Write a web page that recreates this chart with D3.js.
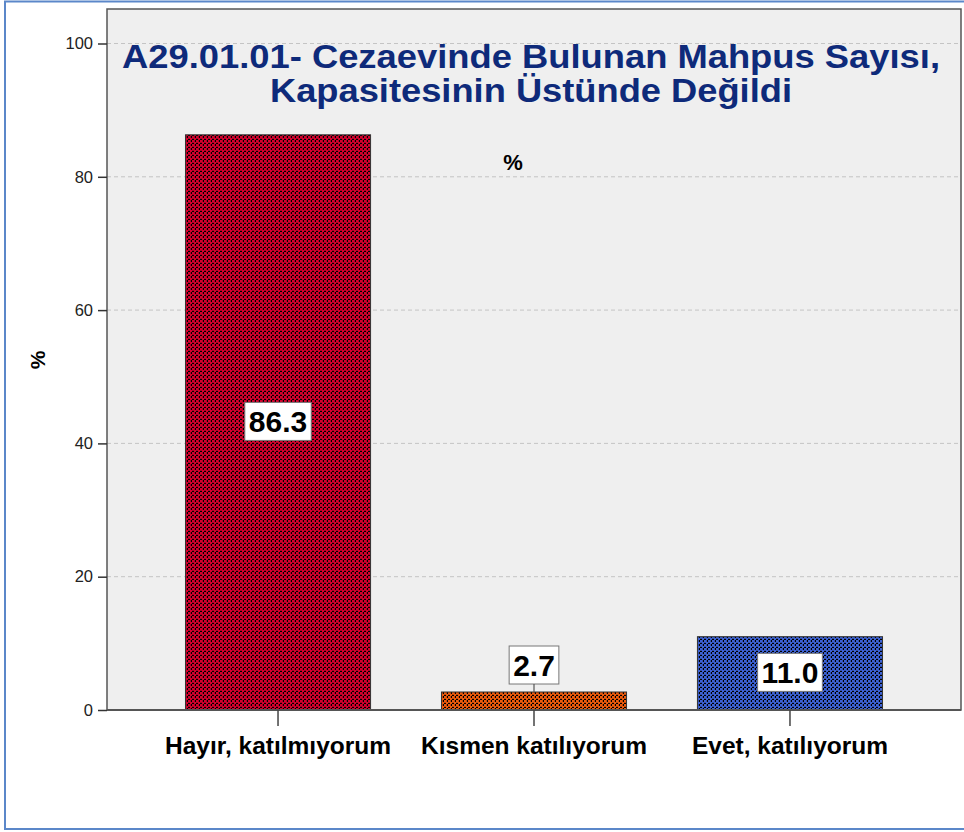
<!DOCTYPE html>
<html>
<head>
<meta charset="utf-8">
<script src="https://cdn.jsdelivr.net/npm/d3@7"></script>
<style>
  html, body { margin: 0; padding: 0; background: #ffffff; }
  svg { display: block; font-family: "Liberation Sans", Arial, sans-serif; }
</style>
</head>
<body>
<svg id="chart" width="964" height="832"></svg>
<script>
// Survey answer categories and their shares (%)
const categories = ["Hayır, katılmıyorum", "Kısmen katılıyorum", "Evet, katılıyorum"];
const percents = [86.3, 2.7, 11.0];
const barColors = ["#d4002c", "#ee5a0c", "#3d62d4"];
const yTicks = [0, 20, 40, 60, 80, 100];
const titleLines = ["A29.01.01- Cezaevinde Bulunan Mahpus Sayısı,", "Kapasitesinin Üstünde Değildi"];
const titleWidths = [818, 522];

const data = categories.map((c, i) => ({ cat: c, value: percents[i], color: barColors[i] }));

const svg = d3.select("#chart");
const plot = { left: 107, right: 961, top: 9, bottom: 710 };

// Outer frame
svg.append("rect")
  .attr("x", 5).attr("y", 1.5).attr("width", 975).attr("height", 827.5)
  .attr("fill", "#ffffff").attr("stroke", "#5b87c9").attr("stroke-width", 2);

// Hatch patterns for the bars
const defs = svg.append("defs");
data.forEach((d, i) => {
  const p = defs.append("pattern")
    .attr("id", "hatch" + i)
    .attr("patternUnits", "userSpaceOnUse")
    .attr("width", 4).attr("height", 4);
  p.append("rect").attr("width", 4).attr("height", 4).attr("fill", "#000000");
  p.append("rect").attr("x", 0).attr("y", 0).attr("width", 2.8).attr("height", 2.8).attr("fill", d.color);
  p.append("rect").attr("x", 2).attr("y", 2).attr("width", 2.8).attr("height", 2.8).attr("fill", d.color);
});

const y = d3.scaleLinear().domain([0, 100]).range([plot.bottom, 43.5]);
const x = d3.scaleBand()
  .domain(categories)
  .range([plot.left, plot.right])
  .paddingInner(0.277)
  .paddingOuter(0.3066);

// Plot background
svg.append("rect")
  .attr("x", plot.left).attr("y", plot.top)
  .attr("width", plot.right - plot.left).attr("height", plot.bottom - plot.top)
  .attr("fill", "#efefef");

// Gridlines
svg.append("g")
  .selectAll("line")
  .data(yTicks.filter(t => t > 0))
  .join("line")
  .attr("x1", plot.left).attr("x2", plot.right)
  .attr("y1", d => y(d)).attr("y2", d => y(d))
  .attr("stroke", "#c4c4c4").attr("stroke-width", 1)
  .attr("stroke-dasharray", "4,3");

// Plot frame
svg.append("rect")
  .attr("x", plot.left).attr("y", plot.top)
  .attr("width", plot.right - plot.left).attr("height", plot.bottom - plot.top)
  .attr("fill", "none").attr("stroke", "#555555").attr("stroke-width", 1.5);

// Title
svg.append("g")
  .selectAll("text")
  .data(titleLines)
  .join("text")
  .attr("x", 531)
  .attr("y", (d, i) => 68 + i * 34)
  .attr("text-anchor", "middle")
  .attr("font-size", 33).attr("font-weight", "bold")
  .attr("fill", "#0e2a7a")
  .attr("textLength", (d, i) => titleWidths[i])
  .attr("lengthAdjust", "spacingAndGlyphs")
  .text(d => d);

// Inner "%" label
svg.append("text")
  .attr("x", 513).attr("y", 170)
  .attr("text-anchor", "middle")
  .attr("font-size", 22).attr("font-weight", "bold")
  .attr("fill", "#000")
  .text("%");

// Bars
svg.append("g")
  .selectAll("rect")
  .data(data)
  .join("rect")
  .attr("x", d => x(d.cat))
  .attr("y", d => y(d.value))
  .attr("width", x.bandwidth())
  .attr("height", d => y(0) - y(d.value))
  .attr("fill", (d, i) => `url(#hatch${i})`)
  .attr("stroke", "#333333").attr("stroke-width", 1);

// Y axis
const yAxis = svg.append("g")
  .attr("transform", `translate(${plot.left},0)`)
  .call(d3.axisLeft(y).tickValues(yTicks).tickSize(9).tickPadding(5).tickFormat(d3.format("d")));
yAxis.select(".domain").remove();
yAxis.selectAll(".tick line").attr("stroke", "#333").attr("stroke-width", 1.5);
yAxis.selectAll(".tick text")
  .attr("font-size", 16.5).attr("fill", "#222")
  .attr("font-family", "'Liberation Sans', Arial, sans-serif");

// X axis
const xAxis = svg.append("g")
  .attr("transform", `translate(0,${plot.bottom})`)
  .call(d3.axisBottom(x).tickSize(16).tickPadding(11));
xAxis.select(".domain")
  .attr("d", `M${plot.left},0H${plot.right}`)
  .attr("stroke", "#555").attr("stroke-width", 2);
xAxis.selectAll(".tick line").attr("stroke", "#444").attr("stroke-width", 1.5);
xAxis.selectAll(".tick text")
  .attr("font-size", 24.5).attr("font-weight", "bold").attr("fill", "#000")
  .attr("font-family", "'Liberation Sans', Arial, sans-serif");

// Y axis title
svg.append("text")
  .attr("transform", "translate(45,360) rotate(-90)")
  .attr("text-anchor", "middle")
  .attr("font-size", 21).attr("font-weight", "bold")
  .attr("fill", "#000")
  .text("%");

// Value labels: inside tall bars, above short ones with a leader line
const labels = svg.append("g");
data.forEach(d => {
  const cx = x(d.cat) + x.bandwidth() / 2;
  const inside = y(0) - y(d.value) > 40;
  const txt = d.value.toFixed(1);
  const g = labels.append("g");
  const t = g.append("text")
    .attr("text-anchor", "middle")
    .attr("font-size", 30).attr("font-weight", "bold")
    .attr("fill", "#000")
    .text(txt);
  const tb = t.node().getBBox();
  const w = tb.width + 8, h = 38;
  let cy;
  if (inside) {
    cy = (y(0) + y(d.value)) / 2 - 1;
  } else {
    cy = y(d.value) - 8 - h / 2;
    g.append("line")
      .attr("x1", cx).attr("x2", cx)
      .attr("y1", cy + h / 2).attr("y2", y(d.value))
      .attr("stroke", "#555").attr("stroke-width", 1.2);
  }
  g.insert("rect", "text")
    .attr("x", cx - w / 2).attr("y", cy - h / 2)
    .attr("width", w).attr("height", h)
    .attr("fill", "#ffffff").attr("stroke", "#777").attr("stroke-width", 1);
  t.attr("x", cx).attr("y", cy + 11);
});
</script>
</body>
</html>
